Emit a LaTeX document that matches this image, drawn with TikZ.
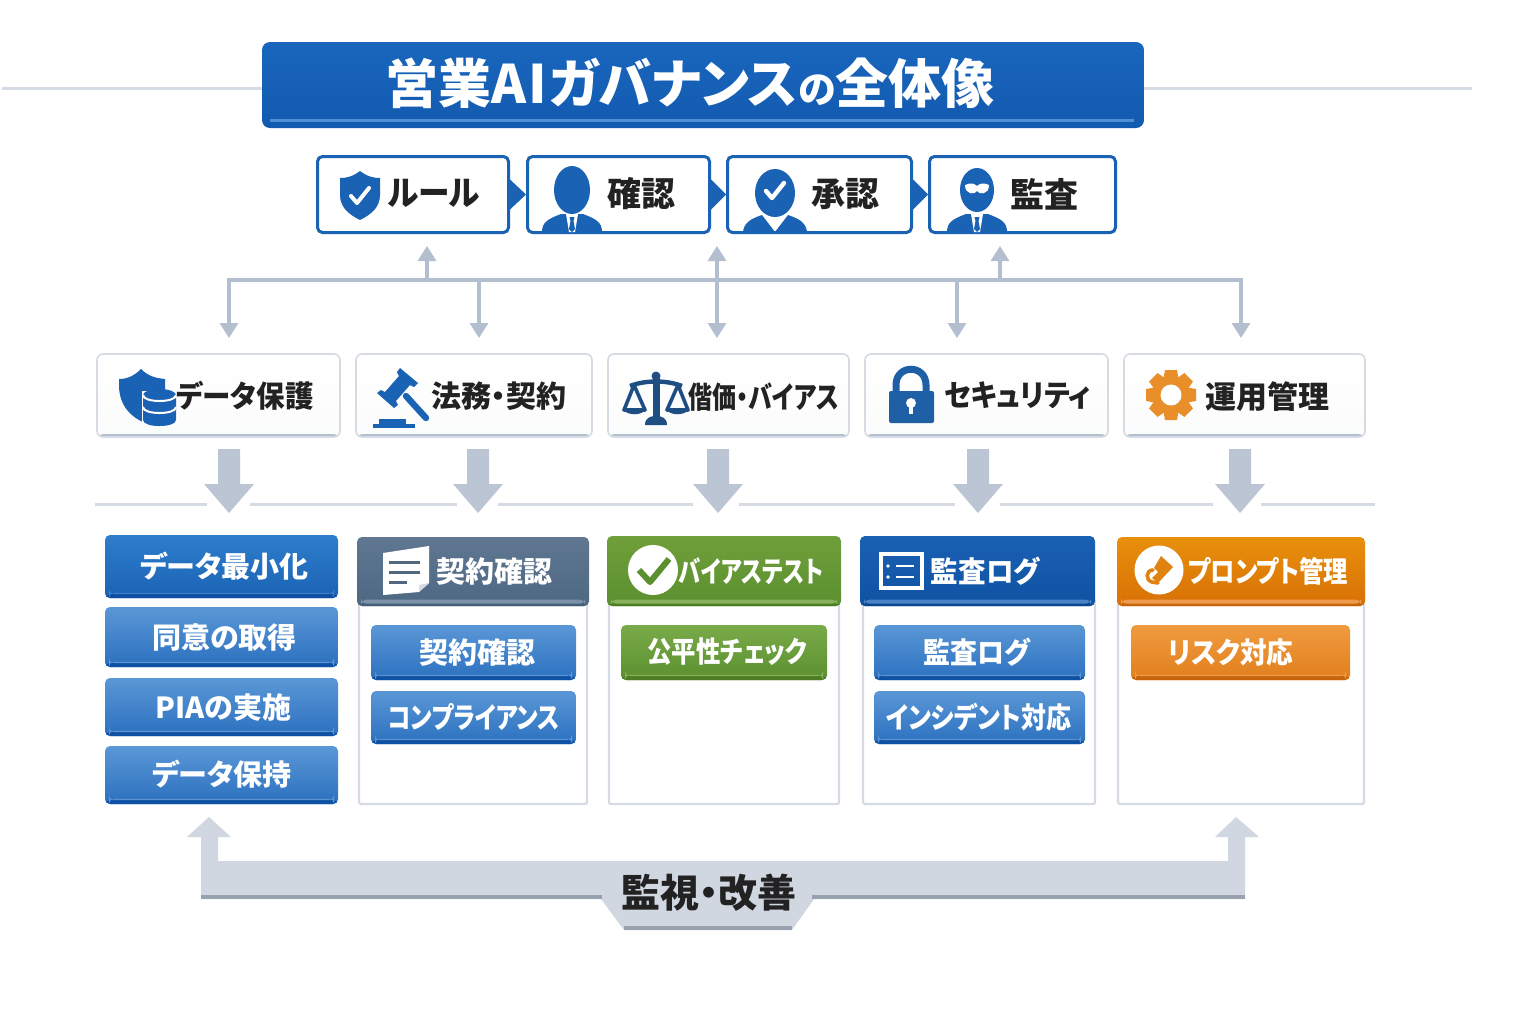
\documentclass[tikz,border=0pt]{standalone}
\usepackage{fontspec}
\setmainfont{Noto Sans CJK JP}[RawFeature=+palt]
\usetikzlibrary{positioning,arrows.meta}
\definecolor{ruleGray}{HTML}{D6DBE3}
\definecolor{hubGray}{HTML}{B3BFCE}
\definecolor{stepBlue}{HTML}{1A62B4}
\definecolor{inkDark}{HTML}{222222}
\definecolor{navyIcon}{HTML}{1F4E82}
\definecolor{lockBlue}{HTML}{1F5FA5}
\definecolor{gearOrange}{HTML}{E88F2A}
\definecolor{docSlate}{HTML}{51687F}
\definecolor{tickGreen}{HTML}{5B8F2F}
\definecolor{markOrange}{HTML}{E0820F}
\definecolor{titleTop}{HTML}{1A66BD}
\definecolor{titleBot}{HTML}{125AB0}
\definecolor{titleLine}{HTML}{4F8FD6}
\definecolor{blueATop}{HTML}{2F7DCB}
\definecolor{blueABot}{HTML}{1A63B6}
\definecolor{blueADark}{HTML}{0F4EA0}
\definecolor{blueALine}{HTML}{3F7FC8}
\definecolor{blueBTop}{HTML}{5A97D6}
\definecolor{blueBBot}{HTML}{2B70BF}
\definecolor{blueBDark}{HTML}{0F52A5}
\definecolor{blueBLine}{HTML}{5C93D2}
\definecolor{slateTop}{HTML}{5F7791}
\definecolor{slateBot}{HTML}{4E6783}
\definecolor{slateDark}{HTML}{465D78}
\definecolor{slateLine}{HTML}{7C91A8}
\definecolor{greenTop}{HTML}{6F9F3A}
\definecolor{greenBot}{HTML}{5B8F2F}
\definecolor{greenDark}{HTML}{4C7D22}
\definecolor{greenLine}{HTML}{86B05C}
\definecolor{blueHTop}{HTML}{1A60B3}
\definecolor{blueHBot}{HTML}{0F52A3}
\definecolor{blueHDark}{HTML}{0C4690}
\definecolor{blueHLine}{HTML}{4A82C6}
\definecolor{orangeTop}{HTML}{E8900C}
\definecolor{orangeBot}{HTML}{D87006}
\definecolor{orangeDark}{HTML}{C6640A}
\definecolor{orangeLine}{HTML}{EE9A4E}
\definecolor{greenBTop}{HTML}{7AAB49}
\definecolor{orangeBTop}{HTML}{F09B3F}
\definecolor{orangeBBot}{HTML}{E17F1D}
\newcommand{\sqz}[2]{\scalebox{#1}[1]{#2}}
\tikzset{
  x=0.5pt, y=-0.5pt,
  darktext/.style={font=\bfseries\fontsize{#1}{#1}\selectfont, inner sep=0pt, text=inkDark},
  whitetext/.style={font=\bfseries\fontsize{#1}{#1}\selectfont, inner sep=0pt, text=white},
  stepbox/.style={draw=stepBlue, line width=1.5pt, fill=white, rounded corners=2.5pt, minimum height=38pt, inner sep=0pt},
  catbox/.style={draw=ruleGray, line width=0.8pt, rounded corners=3pt, top color=white, bottom color=white!90!ruleGray, minimum height=41.5pt, inner sep=0pt,
    path picture={\fill[hubGray] ([yshift=1.4pt]path picture bounding box.south west) rectangle (path picture bounding box.south east);}},
  panelbox/.style={draw=ruleGray, line width=1.1pt, fill=white, rounded corners=1pt, minimum height=102pt, inner sep=0pt},
  headtile/.style n args={4}{top color=#1, bottom color=#2, rounded corners=2.5pt, inner sep=0pt,
    path picture={
      \fill[#3] ([yshift=1.2pt]path picture bounding box.south west) rectangle (path picture bounding box.south east);
      \fill[#4] ([xshift=2pt,yshift=3.2pt]path picture bounding box.south west) rectangle ([xshift=-2pt,yshift=1.2pt]path picture bounding box.south east);}},
  btntile/.style n args={4}{top color=#1, bottom color=#2, rounded corners=2.5pt, inner sep=0pt,
    path picture={
      \fill[#3] ([yshift=2pt]path picture bounding box.south west) rectangle (path picture bounding box.south east);
      \fill[#4] ([xshift=2pt,yshift=2.6pt]path picture bounding box.south west) rectangle ([xshift=-2pt,yshift=2pt]path picture bounding box.south east);}},
  blueA/.style={btntile={blueATop}{blueABot}{blueADark}{blueALine}},
  blueB/.style={btntile={blueBTop}{blueBBot}{blueBDark}{blueBLine}},
  slateH/.style={headtile={slateTop}{slateBot}{slateDark}{slateLine}},
  greenH/.style={headtile={greenTop}{greenBot}{greenDark}{greenLine}},
  blueH/.style={headtile={blueHTop}{blueHBot}{blueHDark}{blueHLine}},
  orangeH/.style={headtile={orangeTop}{orangeBot}{orangeDark}{orangeLine}},
  greenB/.style={btntile={greenBTop}{greenBot}{greenDark}{greenLine}},
  orangeB/.style={btntile={orangeBTop}{orangeBBot}{orangeDark}{orangeLine}},
  flowline/.style={draw=hubGray, line width=1.6pt, line cap=rect},
  flowarrow/.style={flowline, -{Triangle[width=9pt,length=7.5pt]}},
  dividerline/.style={draw=ruleGray, line width=1.5pt},
  pics/bigdown/.style={code={\fill[hubGray!90!white] (-11,0) -- (11,0) -- (11,35) -- (25,35) -- (0,64) -- (-25,35) -- (-11,35) -- cycle;}},
  pics/person/.style={code={
    \fill[stepBlue] (-30,42) .. controls (-30,32) and (-24,29) .. (-11,24) -- (11,24) .. controls (24,29) and (30,32) .. (30,42) -- cycle;
    \fill[white] (-6,24) -- (6,24) -- (3,42) -- (-3,42) -- cycle;
    \fill[stepBlue] (-2.5,27) -- (2.5,27) -- (1.5,31) -- (3,39) -- (0,42) -- (-3,39) -- (-1.5,31) -- cycle;
  }},
  pics/personopen/.style={code={
    \fill[stepBlue] (-32,42) .. controls (-31,33) and (-25,29) .. (-13,25) -- (0,42) -- (13,25) .. controls (25,29) and (31,33) .. (32,42) -- cycle;
  }},
  pics/tick/.style={code={\draw[white, line width=#1, line cap=round, line join=round] (-9,0) -- (-3,7) -- (9,-8);}},
  pics/gearicon/.style={code={
    \foreach \a in {0,45,...,315} {\fill[gearOrange, rotate=\a] (-6,-25) -- (6,-25) -- (8,-14) -- (-8,-14) -- cycle;}
    \fill[gearOrange] (0,0) circle (19);
    \fill[white] (0,0) circle (10.5);
  }},
}
\begin{document}
\begin{tikzpicture}
\useasboundingbox (0,0) rectangle (1536,1024);
\fill[white] (0,0) rectangle (1536,1024);

% title
\draw[dividerline] (2,88) -- (1472,88);
\node[top color=titleTop, bottom color=titleBot, minimum width=441pt, minimum height=43pt, rounded corners=4pt] (title) at (703,85) {};
\fill[titleLine] (270,118.5) rectangle (1134,121.5);
\node[font=\bfseries\fontsize{26.5}{27}\selectfont, inner sep=0pt, text=white] (titleText) at (690,83) {営業A\kern1pt I\kern1pt ガバナンス{\fontsize{19}{19}\selectfont の}全体像};

% flow of the four steps
\node[stepbox, minimum width=95.5pt] (rule) at (413,194.5) {};
\node[stepbox, minimum width=91pt] (check) at (618.5,194.5) {};
\node[stepbox, minimum width=92pt] (approve) at (819.5,194.5) {};
\node[stepbox, minimum width=93pt] (audit) at (1022.5,194.5) {};
\fill[stepBlue] ([yshift=7.5pt]rule.east) -- (check.west) -- ([yshift=-7.5pt]rule.east) -- cycle;
\fill[stepBlue] ([yshift=7.5pt]check.east) -- (approve.west) -- ([yshift=-7.5pt]check.east) -- cycle;
\fill[stepBlue] ([yshift=7.5pt]approve.east) -- (audit.west) -- ([yshift=-7.5pt]approve.east) -- cycle;

\fill[stepBlue] (360,171) .. controls (368,177) and (374,178) .. (380,178) -- (380,195) .. controls (380,208) and (370,215) .. (360,220) .. controls (350,215) and (340,208) .. (340,195) -- (340,178) .. controls (346,178) and (352,177) .. (360,171) -- cycle;
\pic at (360,196) {tick=2pt};
\node[darktext=17] (ruleText) at (434,193) {\sqz{0.93}{ルール}};

\pic at (572,190) {person};
\fill[stepBlue] (572,190) ellipse (18 and 24);
\node[darktext=17] (checkText) at (641,194) {確認};

\pic at (775,190) {personopen};
\fill[stepBlue] (775,193) ellipse (20 and 24);
\pic at (775,191) {tick=2.2pt};
\node[darktext=17] (approveText) at (845,194) {承認};

\pic at (977,190) {person};
\fill[stepBlue] (977,190) ellipse (17 and 22);
\fill[white] (965,185) .. controls (971,182) and (975,184) .. (977,186) .. controls (979,184) and (983,182) .. (989,185) .. controls (989,195) and (979,195) .. (977,191) .. controls (975,195) and (965,195) .. (965,185) -- cycle;
\node[darktext=17] (auditText) at (1044,194) {監査};

% hub with its arrows
\coordinate (hubL) at (229,280);
\coordinate (hubR) at (1241,280);
\coordinate (hubA) at (427,280);
\coordinate (hubB) at (479,280);
\coordinate (hubC) at (717,280);
\coordinate (hubD) at (957,280);
\coordinate (hubE) at (1000,280);
\coordinate (upA) at (427,246);
\coordinate (upC) at (717,246);
\coordinate (upE) at (1000,246);
\coordinate (downL) at (229,338);
\coordinate (downB) at (479,338);
\coordinate (downC) at (717,338);
\coordinate (downD) at (957,338);
\coordinate (downR) at (1241,338);
\draw[flowline] (hubL) -- (hubR);
\draw[flowarrow] (hubA) -- (upA);
\draw[flowarrow] (hubC) -- (upC);
\draw[flowarrow] (hubE) -- (upE);
\draw[flowarrow] (hubL) -- (downL);
\draw[flowarrow] (hubB) -- (downB);
\draw[flowarrow] (hubC) -- (downC);
\draw[flowarrow] (hubD) -- (downD);
\draw[flowarrow] (hubR) -- (downR);

% categories
\node[catbox, minimum width=121.5pt] (catData) at (218.5,395.5) {};
\node[catbox, minimum width=118pt] (catLegal) at (474,395.5) {};
\node[catbox, minimum width=120.5pt] (catBias) at (728.5,395.5) {};
\node[catbox, minimum width=121.5pt] (catSec) at (986.5,395.5) {};
\node[catbox, minimum width=120.5pt] (catOps) at (1244.5,395.5) {};

\fill[stepBlue] (141,369) .. controls (148,376) and (155,378) .. (165,379) -- (165,425) -- (150,425) .. controls (130,418) and (119,405) .. (119,385) -- (119,379) .. controls (127,379) and (134,376) .. (141,369) -- cycle;
\fill[white] (142,391) rectangle (178,425);
\fill[stepBlue] (143,395) -- (143,420) .. controls (143,428) and (176,428) .. (176,420) -- (176,395) -- cycle;
\fill[stepBlue] (159.5,395) ellipse (16.5 and 6);
\draw[white, line width=1pt] (143,395) .. controls (143,403) and (176,403) .. (176,395);
\draw[white, line width=1pt] (143,407) .. controls (143,415) and (176,415) .. (176,407);
\node[darktext=15] (catDataText) at (245,396) {\sqz{0.95}{データ保護}};

\fill[stepBlue] (400,368) -- (418,383) -- (414,387) -- (410,385) -- (396,401) -- (398,405) -- (394,408) -- (377,393) -- (381,390) -- (385,392) -- (399,376) -- (397,372) -- cycle;
\draw[stepBlue, line width=3.2pt, line cap=round] (406,396) -- (426,418);
\fill[stepBlue] (379,419) rectangle (406,424);
\fill[stepBlue] (373,424) rectangle (415,428);
\node[darktext=15] (catLegalText) at (498.5,396) {法務・契約};

\fill[navyIcon] (656,376) circle (4.5);
\fill[navyIcon] (652.5,376) rectangle (659.5,418);
\fill[navyIcon] (645,425) .. controls (645,418) and (650,416) .. (656,416) .. controls (662,416) and (667,418) .. (667,425) -- cycle;
\draw[navyIcon, line width=2.2pt] (630,386) .. controls (645,380) and (667,380) .. (682,386);
\draw[navyIcon, line width=1.8pt, line join=round] (634,385) -- (624,410) -- (645,410) -- cycle;
\draw[navyIcon, line width=1.8pt, line join=round] (678,385) -- (667,410) -- (688,410) -- cycle;
\fill[navyIcon] (622,409) .. controls (628,416) and (641,416) .. (647,409) -- cycle;
\fill[navyIcon] (665,409) .. controls (671,416) and (684,416) .. (690,409) -- cycle;
\node[darktext=15] (catBiasText) at (764,397) {\sqz{0.8}{偕価・バイアス}};

\draw[lockBlue, line width=3.5pt] (896,393) -- (896,385) .. controls (896,364) and (926,364) .. (926,385) -- (926,393);
\fill[lockBlue, rounded corners=1pt] (889,391) rectangle (934,423);
\fill[white] (911,403) circle (5);
\fill[white] (909,403) rectangle (913,414);
\node[darktext=15] (catSecText) at (1017.5,396) {\sqz{0.93}{セキュリティ}};

\pic at (1171,395) {gearicon};
\node[darktext=15.5] (catOpsText) at (1267.5,396.5) {運用管理};

% arrows down and the divider
\draw[dividerline] (95,504) -- (207,504);
\draw[dividerline] (250,504) -- (457,504);
\draw[dividerline] (498,504) -- (693,504);
\draw[dividerline] (739,504) -- (955,504);
\draw[dividerline] (1000,504) -- (1213,504);
\draw[dividerline] (1261,504) -- (1375,504);
\pic at (229,449) {bigdown};
\pic at (478,449) {bigdown};
\pic at (718,449) {bigdown};
\pic at (978,449) {bigdown};
\pic at (1240,449) {bigdown};

% first column
\node[blueA, minimum width=116.5pt, minimum height=31.5pt] (dataMin) at (221.5,566.5) {};
\node[blueB, minimum width=116.5pt, minimum height=30pt] (consent) at (221.5,637) {};
\node[blueB, minimum width=116.5pt, minimum height=29pt] (pia) at (221.5,707) {};
\node[blueB, minimum width=116.5pt, minimum height=29pt] (retain) at (221.5,775) {};
\node[whitetext=14.5] (dataMinText) at (224.5,566) {データ最小化};
\node[whitetext=14.5] (consentText) at (224.5,637) {同意の取得};
\node[whitetext=14.5] (piaText) at (223.5,707) {PIAの実施};
\node[whitetext=14.5] (retainText) at (222,774) {データ保持};

% panels
\node[panelbox, minimum width=114pt] (panelB) at (473,702) {};
\node[panelbox, minimum width=115pt] (panelC) at (724,702) {};
\node[panelbox, minimum width=116pt] (panelD) at (979,702) {};
\node[panelbox, minimum width=123pt] (panelE) at (1241,702) {};

% second column
\node[slateH, minimum width=116pt, minimum height=34.5pt] (headB) at (473,571.5) {};
\fill[white] (383,553) -- (429,546) -- (429,583) -- (419,592) -- (383,595) -- cycle;
\fill[ruleGray] (419,592) -- (429,583) -- (419,585) -- cycle;
\draw[docSlate, line width=1.5pt] (389,562) -- (420,562);
\draw[docSlate, line width=1.5pt] (389,572) -- (420,572);
\draw[docSlate, line width=1.5pt] (389,582) -- (407,582);
\node[whitetext=14.5] (headBText) at (494,571) {契約確認};
\node[blueB, minimum width=102.5pt, minimum height=27.5pt] (contract) at (473.5,652.5) {};
\node[blueB, minimum width=102.5pt, minimum height=26.5pt] (comply) at (473.5,717.5) {};
\node[whitetext=14.5] (contractText) at (477,652) {契約確認};
\node[whitetext=14.5] (complyText) at (474,717) {\sqz{0.81}{コンプライアンス}};

% third column
\node[greenH, minimum width=117pt, minimum height=35pt] (headC) at (724,571) {};
\fill[white] (653,570) circle (25);
\draw[tickGreen, line width=3pt, line join=round] (639,570) -- (650,582) -- (669,559);
\node[whitetext=14.5] (headCText) at (751,571) {\sqz{0.77}{バイアステスト}};
\node[greenB, minimum width=103pt, minimum height=27.5pt] (fair) at (724,652.5) {};
\node[whitetext=14.5] (fairText) at (727.5,652) {\sqz{0.84}{公平性チェック}};

% fourth column
\node[blueH, minimum width=117.5pt, minimum height=35pt] (headD) at (977.5,571) {};
\draw[white, line width=2.4pt] (881,554) rectangle (922,588);
\fill[white] (888,566) circle (1.8);
\fill[white] (888,577) circle (1.8);
\draw[white, line width=1.3pt] (896,566) -- (914,566);
\draw[white, line width=1.3pt] (896,577) -- (914,577);
\node[whitetext=14.5] (headDText) at (985.5,571) {\sqz{0.95}{監査ログ}};
\node[blueB, minimum width=105.5pt, minimum height=27.5pt] (auditLog) at (979.5,652.5) {};
\node[blueB, minimum width=105.5pt, minimum height=26.5pt] (incident) at (979.5,717.5) {};
\node[whitetext=14.5] (auditLogText) at (976.5,652) {\sqz{0.93}{監査ログ}};
\node[whitetext=14.5] (incidentText) at (978.5,717) {\sqz{0.86}{インシデント対応}};

% fifth column
\node[orangeH, minimum width=124pt, minimum height=34.5pt] (headE) at (1241,571.5) {};
\fill[white] (1159,570) circle (24.5);
\fill[markOrange] (1161,556) -- (1173,567) -- (1158,583) -- (1152,578) -- (1158,572) -- (1154,568) -- cycle;
\draw[markOrange, line width=1.8pt, line cap=round] (1153,570) .. controls (1146,570) and (1145,580) .. (1152,582) -- (1158,583);
\node[whitetext=14.5] (headEText) at (1268,571) {\sqz{0.84}{プロンプト管理}};
\node[orangeB, minimum width=109.5pt, minimum height=27.5pt] (risk) at (1240.5,652.5) {};
\node[whitetext=14.5] (riskText) at (1231,652) {\sqz{0.92}{リスク対応}};

% monitoring arrow
\fill[ruleGray!85!hubGray] (209,817) -- (231,837) -- (218,837) -- (218,861) -- (1228,861) -- (1228,837) -- (1215,837) -- (1236,817) -- (1259,837) -- (1245,837) -- (1245,899) -- (814,899) -- (792,930) -- (624,930) -- (601,899) -- (201,899) -- (201,837) -- (187,837) -- cycle;
\fill[hubGray!85!black] (201,895) rectangle (602,899);
\fill[hubGray!85!black] (812,895) rectangle (1245,899);
\fill[hubGray!85!black] (624,926) rectangle (792,930);
\node[darktext=19.5] (monitorText) at (709,893) {監視・改善};
\end{tikzpicture}
\end{document}
